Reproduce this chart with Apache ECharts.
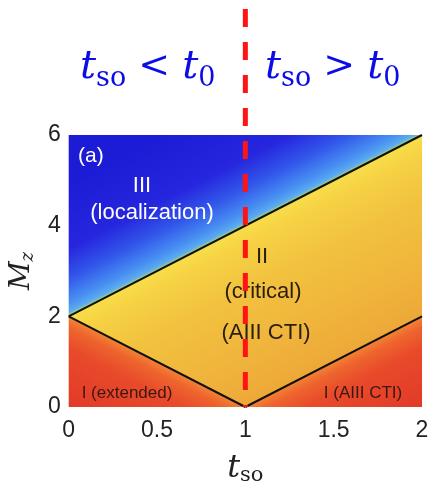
<!DOCTYPE html>
<html>
<head>
<meta charset="UTF-8" />
<title>phase diagram</title>
<script src="https://cdn.jsdelivr.net/npm/echarts@6/dist/echarts.min.js"></script>
<style>
  html, body { margin: 0; padding: 0; background: #fff; }
  #main { width: 433px; height: 491px; }
</style>
</head>
<body>
<div id="main"></div>
<script type="text/javascript">
// axes
var tsoTicks = [0, 0.5, 1, 1.5, 2];
var mzTicks = [0, 2, 4, 6];

// phase boundaries (t_so, M_z)
var upperBoundary = [[0, 2], [2, 6]];
var lowerLeftBoundary = [[0, 2], [1, 0]];
var lowerRightBoundary = [[1, 0], [2, 2]];

// regions
var regionIII = [[0, 2], [2, 6], [0, 6]];
var regionII = [[0, 2], [2, 6], [2, 2], [1, 0]];
var regionILeft = [[0, 0], [0, 2], [1, 0]];
var regionIRight = [[1, 0], [2, 0], [2, 2]];

// t_so = t0 marker, runs above the plot
var t0 = 1;
var markerTop = 8.78;

var myChart = echarts.init(document.getElementById('main'));

var redStops = [[0, '#f28434'], [0.12, '#ee642e'], [0.35, '#e84a2a'], [1, '#e23a28']];
var regions = [
    { poly: regionIII, edge: upperBoundary, side: -1, dist: 120,
      stops: [[0, '#b8d858'], [0.03, '#5cacf0'], [0.1, '#4890f2'], [0.28, '#3256ea'], [0.5, '#2626de'], [1, '#1c1cd6']] },
    { poly: regionII, edge: upperBoundary, side: 1, dist: 162,
      stops: [[0, '#f8de4a'], [0.1, '#f6d244'], [0.35, '#f2c23f'], [0.7, '#f0b53c'], [1, '#eda838']] },
    { poly: regionILeft, edge: lowerLeftBoundary, side: 1, dist: 81, stops: redStops },
    { poly: regionIRight, edge: lowerRightBoundary, side: 1, dist: 81, stops: redStops }
];

function renderRegion(params, api) {
    var r = regions[params.dataIndex];
    var pts = r.poly.map(function (p) { return api.coord(p); });
    var a = api.coord(r.edge[0]), b = api.coord(r.edge[1]);
    var dx = b[0] - a[0], dy = b[1] - a[1];
    var len = Math.sqrt(dx * dx + dy * dy);
    // normal pointing down (side 1) or up (side -1) on screen
    var nx = -dy / len, ny = dx / len;
    if (ny < 0) { nx = -nx; ny = -ny; }
    nx *= r.side; ny *= r.side;
    var mx = (a[0] + b[0]) / 2, my = (a[1] + b[1]) / 2;
    var grad = new echarts.graphic.LinearGradient(
        mx, my, mx + nx * r.dist, my + ny * r.dist,
        r.stops.map(function (s) { return { offset: s[0], color: s[1] }; }), true);
    return {
        type: 'polygon',
        shape: { points: pts },
        style: { fill: grad, stroke: null }
    };
}

function boundary(data) {
    return {
        type: 'line', data: data, symbol: 'none', z: 5, silent: true,
        lineStyle: { color: '#111', width: 2 }
    };
}

var numFont = 'Liberation Sans, Arial, sans-serif';
var mathFont = 'DejaVu Serif, serif';

function mathText(x, y, str) {
    return {
        type: 'text', x: x, y: y, z: 10,
        style: {
            text: str,
            fill: '#0c0ce4',
            rich: {
                t: { fontFamily: mathFont, fontStyle: 'italic', fontSize: 40, lineHeight: 44, verticalAlign: 'top', fill: '#0c0ce4' },
                o: { fontFamily: mathFont, fontSize: 38, lineHeight: 44, verticalAlign: 'top', fill: '#0c0ce4' },
                s: { fontFamily: mathFont, fontSize: 27, lineHeight: 62, fill: '#0c0ce4' }
            }
        }
    };
}

function label(x, y, str, size, color) {
    return {
        type: 'text', x: x, y: y, z: 10,
        style: {
            text: str, fill: color, align: 'center', verticalAlign: 'middle',
            font: size + 'px ' + numFont
        }
    };
}

var option = {
    animation: false,
    grid: { left: 67, right: 11, top: 135, bottom: 83 },
    xAxis: {
        type: 'value', min: 0, max: 2, interval: 0.5,
        axisLine: { show: false }, axisTick: { show: false }, splitLine: { show: false },
        axisLabel: { fontSize: 23, color: '#222', fontFamily: numFont, margin: 12,
            formatter: function (v) { return tsoTicks.indexOf(v) >= 0 ? String(v) : ''; } },
        name: '{t|t}{s|so}', nameLocation: 'middle', nameGap: 44,
        nameTextStyle: {
            rich: {
                t: { fontFamily: mathFont, fontStyle: 'italic', fontSize: 32, color: '#222' },
                s: { fontFamily: mathFont, fontSize: 21, color: '#222', padding: [14, 0, 0, 0] }
            }
        }
    },
    yAxis: {
        type: 'value', min: 0, max: 6, interval: 2,
        axisLine: { show: false }, axisTick: { show: false }, splitLine: { show: false },
        axisLabel: { fontSize: 23, color: '#222', fontFamily: numFont, margin: 8,
            formatter: function (v) { return mzTicks.indexOf(v) >= 0 ? String(v) : ''; } },
        name: '{m|M}{z|z}', nameLocation: 'middle', nameGap: 30, nameRotate: 90,
        nameTextStyle: {
            rich: {
                m: { fontFamily: mathFont, fontStyle: 'italic', fontSize: 28, color: '#222' },
                z: { fontFamily: mathFont, fontStyle: 'italic', fontSize: 18, color: '#222', padding: [12, 0, 0, 0] }
            }
        }
    },
    graphic: [
        mathText(80, 48, '{t|t}{s|so}{o| < }{t|t}{s|0}'),
        mathText(265, 48, '{t|t}{s|so}{o| > }{t|t}{s|0}'),
        { type: 'text', x: 78, y: 146, z: 10, style: { text: '(a)', fill: '#fff', font: '21px ' + numFont } },
        label(142, 186, 'III', 22, '#fff'),
        label(152, 213, '(localization)', 22, '#fff'),
        label(262, 257, 'II', 22, '#2a1d10'),
        label(263, 292, '(critical)', 22, '#2a1d10'),
        label(266, 333, '(AIII CTI)', 22, '#2a1d10'),
        label(127, 393, 'I (extended)', 17, '#3a1810'),
        label(363, 393, 'I (AIII CTI)', 17, '#3a1810')
    ],
    series: [
        { type: 'custom', renderItem: renderRegion, data: regions.map(function (r, i) { return i; }), z: 1, silent: true },
        boundary(upperBoundary),
        boundary(lowerLeftBoundary),
        boundary(lowerRightBoundary),
        {
            type: 'line', data: [[t0, markerTop], [t0, 0]], symbol: 'none', clip: false, z: 20, silent: true,
            lineStyle: { color: '#ff1414', width: 5, type: [18, 15] }
        }
    ]
};

myChart.setOption(option);
</script>
</body>
</html>
